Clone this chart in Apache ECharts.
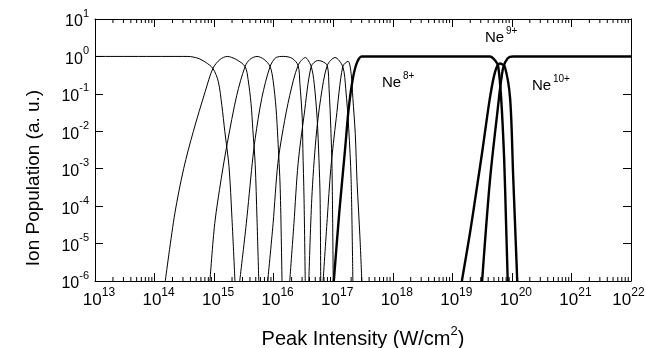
<!DOCTYPE html>
<html><head><meta charset="utf-8">
<script src="https://cdn.jsdelivr.net/npm/echarts@6/dist/echarts.min.js"></script>
<style>html,body{margin:0;padding:0;background:#fff}#c{width:645px;height:348px}</style>
</head><body><div id="c"></div>
<script>
// Each point: [log10(peak intensity, W/cm^2), log10(ion population)]
const ne0 = [[13,0],[14.56,0],[14.73,-0.05],[14.86,-0.16],[14.98,-0.32],[15.07,-0.67],[15.13,-1.31],[15.18,-2.01],[15.25,-2.94],[15.30,-4.33],[15.35,-6]];
const ne1 = [[14.18,-6],[14.34,-4.2],[14.49,-2.99],[14.65,-2.01],[14.85,-0.94],[14.98,-0.32],[15.10,-0.08],[15.22,0],[15.37,-0.08],[15.52,-0.27],[15.57,-0.61],[15.62,-1.26],[15.65,-1.95],[15.69,-2.89],[15.72,-4.33],[15.75,-6]];
const ne2 = [[14.93,-6],[15.01,-4.47],[15.12,-3.26],[15.22,-2.33],[15.38,-1.04],[15.52,-0.27],[15.60,-0.08],[15.72,0],[15.84,-0.08],[15.94,-0.27],[15.99,-0.64],[16.04,-1.39],[16.07,-2.19],[16.11,-3.53],[16.14,-6]];
const ne3 = [[15.43,-6],[15.54,-4.47],[15.64,-2.86],[15.69,-2.19],[15.80,-1.12],[15.94,-0.27],[16.04,-0.03],[16.17,0],[16.31,-0.05],[16.41,-0.24],[16.44,-0.72],[16.48,-1.66],[16.49,-2.46],[16.51,-3.80],[16.53,-6]];
const ne4 = [[15.90,-6],[15.99,-4.47],[16.07,-2.86],[16.16,-1.93],[16.27,-1.04],[16.41,-0.24],[16.53,-0.03],[16.63,-0.27],[16.68,-0.72],[16.73,-1.66],[16.76,-2.73],[16.78,-3.80],[16.79,-6]];
const ne5 = [[16.27,-6],[16.34,-4.47],[16.41,-2.86],[16.51,-1.58],[16.63,-0.27],[16.74,-0.11],[16.81,-0.13],[16.90,-0.24],[16.93,-0.86],[16.96,-1.93],[16.98,-2.99],[17.00,-6]];
const ne6 = [[16.59,-6],[16.64,-3.80],[16.71,-2.19],[16.79,-1.12],[16.90,-0.24],[17.03,-0.03],[17.16,-0.27],[17.21,-0.86],[17.26,-1.93],[17.30,-3.26],[17.33,-6]];
const ne7 = [[16.83,-6],[16.90,-4.33],[16.96,-2.99],[17.05,-1.66],[17.16,-0.27],[17.25,-0.13],[17.30,-0.45],[17.33,-1.12],[17.37,-2.06],[17.40,-3.34],[17.45,-4.87],[17.48,-6]];
const ne8 = [[17.01,-6],[17.10,-4.20],[17.20,-2.46],[17.26,-1.39],[17.33,-0.59],[17.40,-0.16],[17.48,0],[19.63,0],[19.72,-0.11],[19.77,-0.27],[19.82,-1.12],[19.87,-2.73],[19.90,-4.33],[19.93,-6]];
const ne9 = [[19.16,-6],[19.30,-4.68],[19.41,-3.53],[19.51,-2.46],[19.63,-1.12],[19.72,-0.40],[19.80,-0.19],[19.88,-0.27],[19.97,-1.12],[20.02,-3.13],[20.09,-6]];
const ne10 = [[19.50,-6],[19.63,-3.34],[19.75,-1.58],[19.85,-0.32],[19.93,-0.05],[20.02,0],[22,0]];

const thinIons = [ne0, ne1, ne2, ne3, ne4, ne5, ne6, ne7];
const thickIons = [ne8, ne9, ne10];

const xTickExp = [13,14,15,16,17,18,19,20,21,22];
const yTickExp = [-6,-5,-4,-3,-2,-1,0,1];
const minorMultipliers = [2,3,4,5,6,7,8,9];

const ionLabels = [
  {base:'Ne', sup:'8+', x:382, y:83},
  {base:'Ne', sup:'9+', x:485, y:38},
  {base:'Ne', sup:'10+', x:532, y:86}
];

const FONT = 'Liberation Sans, Arial, Helvetica, sans-serif';
const toVal = arr => arr.map(p => [Math.pow(10, p[0]), Math.pow(10, p[1])]);

const minorTicks = [];
xTickExp.slice(0, -1).forEach(e => minorMultipliers.forEach(m => minorTicks.push([m * Math.pow(10, e), 1])));

const xLabel = v => {
  const e = Math.round(Math.log10(v));
  if (xTickExp.indexOf(e) < 0) return '';
  if (e === xTickExp[xTickExp.length - 1]) return '{b|10}{s|' + e + '}{q| }';
  return '{p| }{b|10}{s|' + e + '}';
};
const yLabel = v => {
  const e = Math.round(Math.log10(v));
  if (yTickExp.indexOf(e) < 0) return '';
  return '{b|10}{s|' + e + '}';
};

const chart = echarts.init(document.getElementById('c'), null, {renderer: 'canvas'});

const lineSeries = (arr, w) => ({
  type: 'line', data: toVal(arr), symbol: 'none', showSymbol: false, smooth: 0.3,
  lineStyle: {color: '#000', width: w}, silent: true, animation: false, clip: true,
  xAxisIndex: 0, yAxisIndex: 0
});

const axisCommon = {
  type: 'log', logBase: 10, splitLine: {show: false},
  axisLine: {show: true, onZero: false, lineStyle: {color: '#000', width: 1}},
  axisTick: {show: true, inside: true, length: 8, lineStyle: {color: '#000', width: 1}}
};

chart.setOption({
  animation: false,
  backgroundColor: '#fff',
  grid: {left: 95, right: 14, top: 19, bottom: 67, containLabel: false, outerBoundsMode: 'none'},
  xAxis: [
    Object.assign({}, axisCommon, {
      min: 1e13, max: 1e22, interval: 1, splitNumber: 9, position: 'bottom',
      axisLabel: {
        margin: 6, color: '#000', fontFamily: FONT,
        formatter: xLabel,
        rich: {
          p: {width: 8, fontSize: 12, lineHeight: 12},
          q: {width: 5, fontSize: 12, lineHeight: 12},
          b: {fontSize: 17, fontFamily: FONT, color: '#000', lineHeight: 22, verticalAlign: 'bottom'},
          s: {fontSize: 12, fontFamily: FONT, color: '#000', lineHeight: 12, verticalAlign: 'top'}
        }
      }
    }),
    Object.assign({}, axisCommon, {
      min: 1e13, max: 1e22, interval: 1, splitNumber: 9, position: 'top',
      axisLabel: {show: false}
    })
  ],
  yAxis: [
    Object.assign({}, axisCommon, {
      min: 1e-6, max: 10, interval: 1, splitNumber: 7, position: 'left',
      axisLabel: {
        margin: 6, color: '#000', fontFamily: FONT,
        formatter: yLabel,
        rich: {
          b: {fontSize: 16, fontFamily: FONT, color: '#000', lineHeight: 22, verticalAlign: 'bottom'},
          s: {fontSize: 11, fontFamily: FONT, color: '#000', lineHeight: 12, verticalAlign: 'top'}
        }
      }
    }),
    Object.assign({}, axisCommon, {
      min: 1e-6, max: 10, interval: 1, splitNumber: 7, position: 'right',
      axisLabel: {show: false}
    })
  ],
  series: [
    ...thinIons.map(a => lineSeries(a, 1)),
    ...thickIons.map(a => lineSeries(a, 2.4)),
    {
      type: 'custom', xAxisIndex: 0, yAxisIndex: 0, data: minorTicks, clip: false, silent: true,
      encode: {x: 0, y: 1},
      renderItem: (params, api) => {
        const v = api.value(0);
        const b = api.coord([v, 1e-6]);
        const t = api.coord([v, 10]);
        return {type: 'group', children: [
          {type: 'line', shape: {x1: b[0], y1: b[1], x2: b[0], y2: b[1] - 4}, style: {stroke: '#000', lineWidth: 1}},
          {type: 'line', shape: {x1: t[0], y1: t[1], x2: t[0], y2: t[1] + 4}, style: {stroke: '#000', lineWidth: 1}}
        ]};
      }
    }
  ],
  graphic: [
    {type: 'text', x: 363, y: 337, style: {
      text: '{a|Peak Intensity (W/cm}{s|2}{a|)}', align: 'center', verticalAlign: 'middle',
      rich: {
        a: {fontSize: 20, fontFamily: FONT, fill: '#000', color: '#000', lineHeight: 24, verticalAlign: 'bottom'},
        s: {fontSize: 13, fontFamily: FONT, fill: '#000', color: '#000', lineHeight: 10, verticalAlign: 'top'}
      }}},
    {type: 'text', x: 34, y: 178, rotation: Math.PI / 2, style: {
      text: 'Ion Population (a. u.)', font: '19px ' + FONT, fill: '#000', align: 'center', verticalAlign: 'middle'}},
    ...ionLabels.flatMap(l => [
      {type: 'text', x: l.x, y: l.y, style: {text: l.base, font: '15px ' + FONT, fill: '#000', align: 'left', verticalAlign: 'middle'}},
      {type: 'text', x: l.x + 21, y: l.y - 7, style: {text: l.sup, font: '10px ' + FONT, fill: '#000', align: 'left', verticalAlign: 'middle'}}
    ])
  ]
});
</script>
</body></html>
